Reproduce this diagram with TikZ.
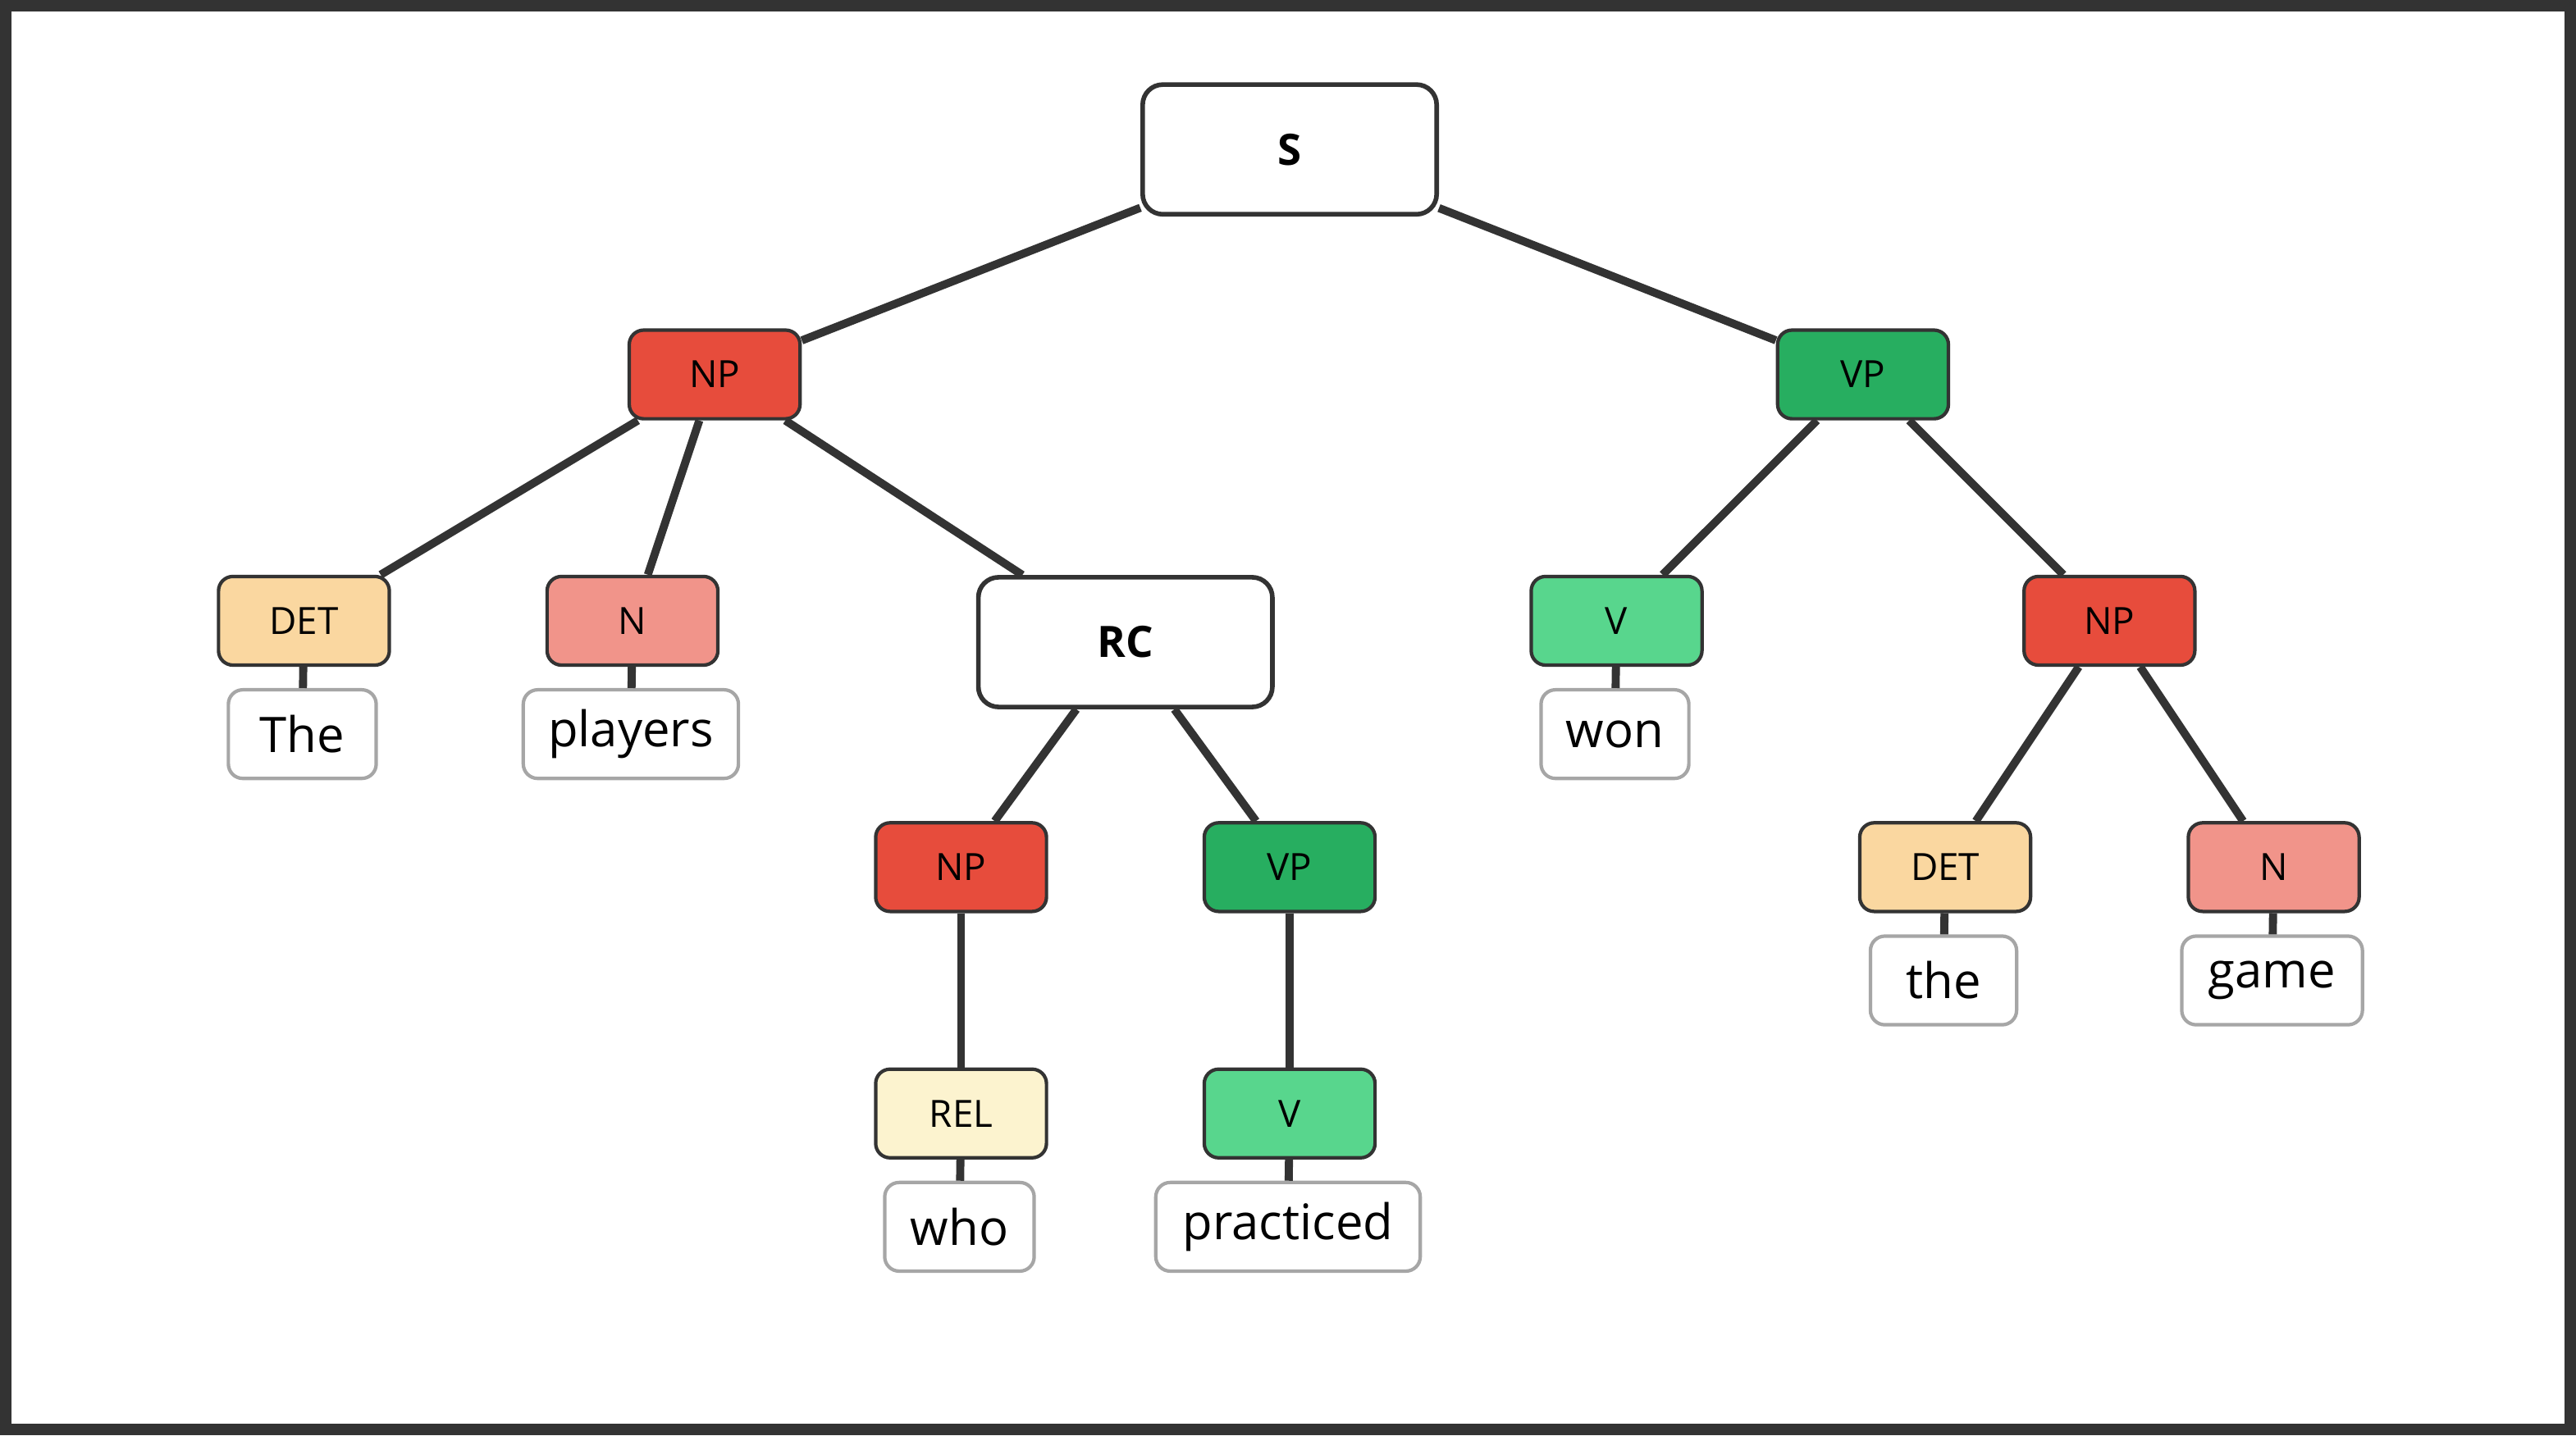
\documentclass[tikz,border=0pt]{standalone}
\usepackage{fontspec}
\setmainfont{Open Sans}
\begin{document}
\begin{tikzpicture}[x=0.02cm,y=-0.02cm,
 lab/.style={draw=black!80,line width=1.2pt,rounded corners=5pt,minimum width=2.08cm,minimum height=1.08cm,inner sep=0pt,font=\fontsize{13}{15}\selectfont},
 big/.style={draw=black!80,line width=1.6pt,rounded corners=7pt,minimum width=3.58cm,minimum height=1.58cm,fill=white,inner sep=0pt,font=\fontsize{15}{17}\selectfont\bfseries},
 word/.style={draw=black!35,line width=1.2pt,rounded corners=5pt,minimum height=1.08cm,inner sep=0pt,fill=white,font=\fontsize{17}{19}\selectfont},
 e/.style={draw=black!80,line width=2.8pt}]
\definecolor{np}{HTML}{E74C3C}\definecolor{vp}{HTML}{27AE60}\definecolor{det}{HTML}{FAD7A0}
\definecolor{nn}{HTML}{F1948A}\definecolor{vv}{HTML}{58D68D}\definecolor{rel}{HTML}{FCF3CF}
\useasboundingbox (0,0) rectangle (1568,874);
\draw[draw=black!80,line width=4pt] (3.5,3.5) rectangle (1564.5,870.5);
\node[big] (S) at (785,91) {S};
\node[lab,fill=np] (NP1) at (435,228) {NP};
\node[lab,fill=vp] (VP1) at (1134,228) {VP};
\node[lab,fill=det] (DET1) at (185,378) {DET};
\node[lab,fill=nn] (N1) at (385,378) {N};
\node[big] (RC) at (685,391) {RC};
\node[lab,fill=vv] (V1) at (984,378) {V};
\node[lab,fill=np] (NP2) at (1284,378) {NP};
\node[lab,fill=np] (NP3) at (585,528) {NP};
\node[lab,fill=vp] (VP2) at (785,528) {VP};
\node[lab,fill=det] (DET2) at (1184,528) {DET};
\node[lab,fill=nn] (N2) at (1384,528) {N};
\node[lab,fill=rel] (REL) at (585,678) {REL};
\node[lab,fill=vv] (V2) at (785,678) {V};
\node[word,minimum width=1.8cm] (w1) at (184,447) {The};
\node[word,minimum width=2.62cm] (w2) at (384,447) {players};
\node[word,minimum width=1.8cm] (w3) at (983,447) {won};
\node[word,minimum width=1.82cm] (w4) at (584,747) {who};
\node[word,minimum width=3.22cm] (w5) at (784,747) {practiced};
\node[word,minimum width=1.78cm] (w6) at (1183,597) {the};
\node[word,minimum width=2.2cm] (w7) at (1383,597) {game};
\draw[e] (S)--(NP1); \draw[e] (S)--(VP1);
\draw[e] (NP1)--(DET1); \draw[e] (NP1)--(N1); \draw[e] (NP1)--(RC);
\draw[e] (VP1)--(V1); \draw[e] (VP1)--(NP2);
\draw[e] (RC)--(NP3); \draw[e] (RC)--(VP2);
\draw[e] (NP2)--(DET2); \draw[e] (NP2)--(N2);
\draw[e] (NP3)--(REL); \draw[e] (VP2)--(V2);
\draw[e] (DET1)--(w1); \draw[e] (N1)--(w2); \draw[e] (V1)--(w3);
\draw[e] (REL)--(w4); \draw[e] (V2)--(w5); \draw[e] (DET2)--(w6); \draw[e] (N2)--(w7);
\end{tikzpicture}
\end{document}
